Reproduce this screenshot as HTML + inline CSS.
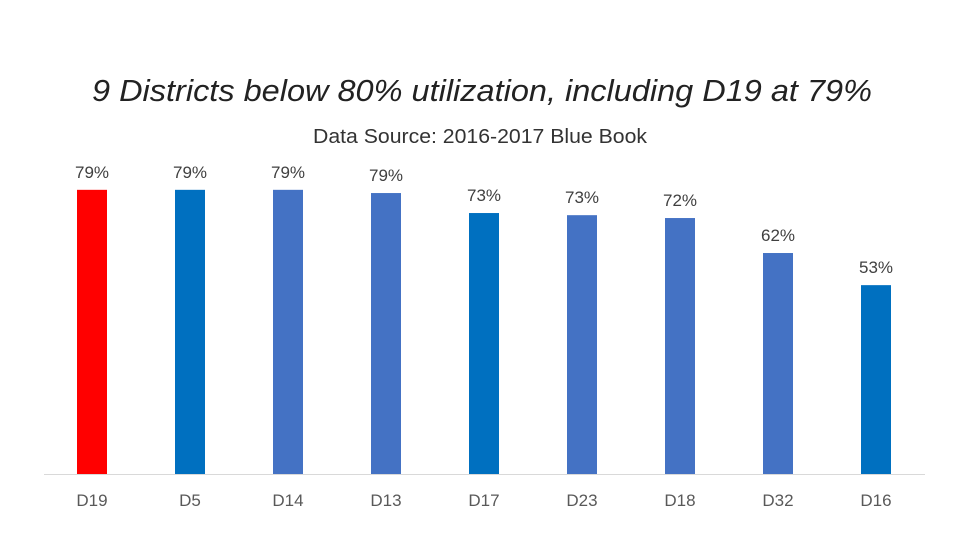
<!DOCTYPE html>
<html><head><meta charset="utf-8"><style>
body{margin:0;background:#fff;}
svg{display:block;font-family:"Liberation Sans",sans-serif;}
</style></head><body>
<svg id="chart" width="960" height="540">
<text x="482" y="101" text-anchor="middle" font-size="31" font-style="italic" fill="#222" textLength="780" lengthAdjust="spacingAndGlyphs">9 Districts below 80% utilization, including D19 at 79%</text>
<text x="480" y="143" text-anchor="middle" font-size="20" fill="#333" textLength="334" lengthAdjust="spacingAndGlyphs">Data Source: 2016-2017 Blue Book</text>
<line x1="44" y1="474.5" x2="925" y2="474.5" stroke="#d9d9d9" stroke-width="1"/>
<g id="bars"></g>
</svg>
<script>
const categories=["D19","D5","D14","D13","D17","D23","D18","D32","D16"];
const values=[79.6,79.6,79.6,78.7,73.1,72.5,71.7,61.9,52.9];
const valueLabels=["79%","79%","79%","79%","73%","73%","72%","62%","53%"];
const colorKeys=["red","dark","light","light","dark","light","light","light","dark"];
const palette={red:"#ff0000",dark:"#0070c0",light:"#4472c4"};
const ns="http://www.w3.org/2000/svg";
const g=document.getElementById("bars");
const baseY=474, pxPer=3.57, x0=92, step=98, bw=30;
function xPos(i){return x0+i*step;}
function yPos(v){return baseY-v*pxPer;}
categories.forEach((c,i)=>{
  const r=document.createElementNS(ns,"rect");
  r.setAttribute("x",xPos(i)-bw/2);r.setAttribute("y",yPos(values[i]));
  r.setAttribute("width",bw);r.setAttribute("height",baseY-yPos(values[i]));
  r.setAttribute("fill",palette[colorKeys[i]]);
  
  
  g.appendChild(r);
  const t=document.createElementNS(ns,"text");
  t.setAttribute("x",xPos(i));t.setAttribute("y",yPos(values[i])-12);
  t.setAttribute("text-anchor","middle");t.setAttribute("font-size","17");t.setAttribute("fill","#404040");
  t.textContent=valueLabels[i];
  
  
  g.appendChild(t);
  const l=document.createElementNS(ns,"text");
  l.setAttribute("x",xPos(i));l.setAttribute("y",506);
  l.setAttribute("text-anchor","middle");l.setAttribute("font-size","17");l.setAttribute("fill","#595959");
  l.textContent=c;
  
  
  g.appendChild(l);
});
</script>
</body></html>
